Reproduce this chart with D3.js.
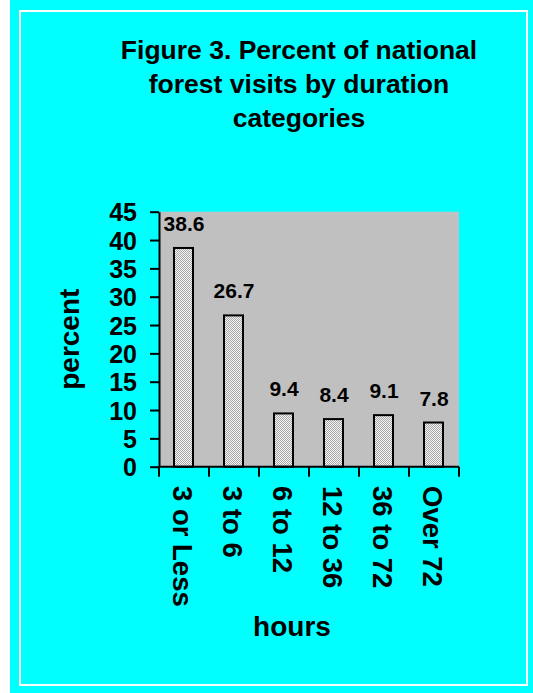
<!DOCTYPE html>
<html>
<head>
<meta charset="utf-8">
<script src="https://cdn.jsdelivr.net/npm/d3@7"></script>
<style>
  body { margin: 0; background: #ffffff; }
  svg text { font-family: "Liberation Sans", Arial, sans-serif; font-weight: bold; fill: #000; }
</style>
</head>
<body>
<script>
// Chart data.
var categories = ["3 or Less", "3 to 6", "6 to 12", "12 to 36", "36 to 72", "Over 72"];
var percents = [38.6, 26.7, 9.4, 8.4, 9.1, 7.8];
var yTicks = [0, 5, 10, 15, 20, 25, 30, 35, 40, 45];
var titleLines = ["Figure 3. Percent of national", "forest visits by duration", "categories"];

var W = 533, H = 693;

// Plot box.
var plot = { left: 159, right: 459, top: 211.7, bottom: 466.7 };

var svg = d3.select("body").append("svg")
            .attr("width", W)
            .attr("height", H);

// Background panel with a white inner frame.
svg.append("rect")
   .attr("x", 10).attr("y", 0)
   .attr("width", W - 10).attr("height", H)
   .attr("fill", "#00ffff");
svg.append("rect")
   .attr("x", 20).attr("y", 11)
   .attr("width", 507).attr("height", 674)
   .attr("fill", "none")
   .attr("stroke", "#ffffff")
   .attr("stroke-width", 2);

// Dithered fill for the bars.
var pattern = svg.append("defs").append("pattern")
                 .attr("id", "dots")
                 .attr("width", 2).attr("height", 2)
                 .attr("patternUnits", "userSpaceOnUse");
pattern.append("rect").attr("width", 2).attr("height", 2).attr("fill", "#f4f4f4");
pattern.append("rect").attr("width", 1).attr("height", 1).attr("fill", "#a8a8a8");
pattern.append("rect").attr("x", 1).attr("y", 1).attr("width", 1).attr("height", 1).attr("fill", "#a8a8a8");

// Scales.
var xScale = d3.scaleBand()
               .domain(categories)
               .range([plot.left, plot.right]);

var yScale = d3.scaleLinear()
               .domain([0, 45])
               .range([plot.bottom, plot.top]);

// Grey plot area.
svg.append("rect")
   .attr("x", plot.left)
   .attr("y", plot.top)
   .attr("width", plot.right - plot.left)
   .attr("height", plot.bottom - plot.top)
   .attr("fill", "#c0c0c0");

// Title.
svg.append("g")
   .selectAll("text")
   .data(titleLines)
   .enter().append("text")
   .attr("x", 299)
   .attr("y", function (d, i) { return 59 + i * 34; })
   .attr("text-anchor", "middle")
   .style("font-size", "26.5px")
   .text(function (d) { return d; });

// Bars.
var barW = 19;
svg.append("g")
   .selectAll("rect")
   .data(percents)
   .enter().append("rect")
   .attr("x", function (d, i) { return xScale(categories[i]) + xScale.bandwidth() / 2 - barW / 2 - 0.5; })
   .attr("y", function (d) { return yScale(d); })
   .attr("width", barW)
   .attr("height", function (d) { return yScale(0) - yScale(d); })
   .attr("fill", "url(#dots)")
   .attr("stroke", "#000")
   .attr("stroke-width", 2);

// Value labels.
svg.append("g")
   .selectAll("text")
   .data(percents)
   .enter().append("text")
   .attr("x", function (d, i) { return xScale(categories[i]) + xScale.bandwidth() / 2; })
   .attr("y", function (d) { return yScale(d) - 17; })
   .attr("text-anchor", "middle")
   .style("font-size", "21px")
   .text(function (d) { return d.toFixed(1); });

// Y axis.
var yAxis = svg.append("g")
               .attr("transform", "translate(" + plot.left + ",0)")
               .call(d3.axisLeft(yScale).tickValues(yTicks).tickSize(9).tickSizeOuter(0).tickPadding(13));
yAxis.selectAll("path, line").attr("stroke", "#000").attr("stroke-width", 2);
yAxis.selectAll("text")
     .attr("dy", "0.36em")
     .style("font-size", "25px")
     .style("font-family", "'Liberation Sans', Arial, sans-serif");

// X axis: baseline with ticks at the category boundaries.
var bounds = categories.map(function (c) { return xScale(c); }).concat([plot.right]);
var xAxis = svg.append("g");
xAxis.append("line")
     .attr("x1", plot.left).attr("x2", plot.right)
     .attr("y1", plot.bottom).attr("y2", plot.bottom)
     .attr("stroke", "#000").attr("stroke-width", 2);
xAxis.selectAll(".tick")
     .data(bounds)
     .enter().append("line")
     .attr("class", "tick")
     .attr("x1", function (d) { return d; }).attr("x2", function (d) { return d; })
     .attr("y1", plot.bottom).attr("y2", plot.bottom + 10)
     .attr("stroke", "#000").attr("stroke-width", 2);

// Rotated category labels, reading top to bottom.
xAxis.selectAll(".label")
     .data(categories)
     .enter().append("text")
     .attr("class", "label")
     .attr("transform", function (d) {
         return "translate(" + (xScale(d) + xScale.bandwidth() / 2) + "," + 486 + ") rotate(90)";
     })
     .attr("dy", "0.4em")
     .attr("text-anchor", "start")
     .style("font-size", "27.5px")
     .text(function (d) { return d; });

// Axis titles.
svg.append("text")
   .attr("transform", "translate(79," + ((plot.top + plot.bottom) / 2) + ") rotate(-90)")
   .attr("text-anchor", "middle")
   .style("font-size", "28px")
   .text("percent");

svg.append("text")
   .attr("x", 292)
   .attr("y", 636)
   .attr("text-anchor", "middle")
   .style("font-size", "28px")
   .text("hours");
</script>
</body>
</html>
